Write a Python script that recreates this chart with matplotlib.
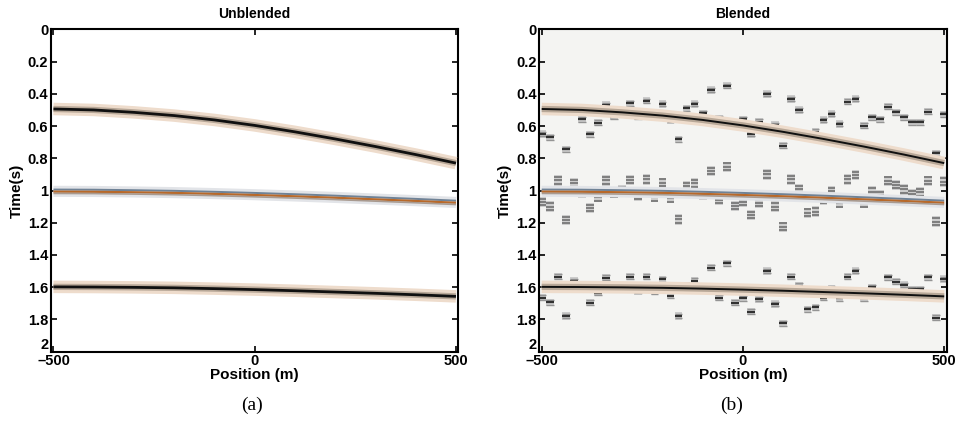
import matplotlib
matplotlib.use('Agg')
import matplotlib.pyplot as plt
import numpy as np

plt.rcParams['font.family'] = ['Liberation Sans', 'DejaVu Sans']
plt.rcParams['font.weight'] = 'bold'

# positions where the event times were read (m)
event_x = [-500, -400, -300, -200, -100, 0, 100, 200, 300, 400, 500]
# event times (s)
event1_t = [0.494, 0.500, 0.515, 0.535, 0.562, 0.596, 0.636, 0.680, 0.727, 0.777, 0.830]
event2_t = [1.005, 1.006, 1.009, 1.013, 1.019, 1.026, 1.034, 1.043, 1.053, 1.063, 1.074]
event3_t = [1.598, 1.599, 1.601, 1.604, 1.609, 1.615, 1.622, 1.630, 1.638, 1.647, 1.657]

# traces of the interfering (blended) source
trace_x = list(range(-500, 501, 20))
blend1_t = [0.649, 0.670, 0.505, 0.744, 0.505, 0.558, 0.651, 0.579, 0.470, 0.542,
            0.517, 0.459, 0.542, 0.443, 0.538, 0.463, 0.563, 0.682, 0.490, 0.463,
            0.521, 0.377, 0.552, 0.350, 0.594, 0.558, 0.649, 0.573, 0.401, 0.594,
            0.722, 0.432, 0.501, 0.656, 0.635, 0.563, 0.525, 0.587, 0.449, 0.432,
            0.598, 0.546, 0.558, 0.480, 0.515, 0.546, 0.577, 0.577, 0.511, 0.769,
            0.527]
blend2_t = [1.072, 1.100, 0.937, 1.183, 0.955, 1.015, 1.108, 1.042, 0.937, 1.017,
            0.997, 0.935, 1.032, 0.931, 1.042, 0.952, 1.048, 1.179, 0.972, 0.955,
            1.028, 0.879, 1.059, 0.852, 1.096, 1.072, 1.152, 1.076, 0.900, 1.100,
            1.225, 0.931, 0.993, 1.138, 1.131, 1.059, 1.003, 1.079, 0.931, 0.904,
            1.079, 1.007, 1.028, 0.939, 0.966, 0.993, 1.024, 1.011, 0.939, 1.193,
            0.945]
blend3_t = [1.665, 1.694, 1.535, 1.779, 1.562, 1.607, 1.696, 1.634, 1.541, 1.607,
            1.597, 1.535, 1.623, 1.535, 1.628, 1.551, 1.653, 1.779, 1.591, 1.560,
            1.611, 1.479, 1.665, 1.452, 1.696, 1.669, 1.752, 1.673, 1.499, 1.704,
            1.824, 1.535, 1.591, 1.737, 1.725, 1.665, 1.607, 1.669, 1.535, 1.499,
            1.669, 1.601, 1.628, 1.539, 1.566, 1.586, 1.613, 1.613, 1.539, 1.789,
            1.549]

yticks = [0, 0.2, 0.4, 0.6, 0.8, 1, 1.2, 1.4, 1.6, 1.8, 2]
ytick_labels = ['0', '0.2', '0.4', '0.6', '0.8', '1', '1.2', '1.4', '1.6', '1.8', '2']
xticks = [-500, 0, 500]


def draw_event_dark(ax, x, t, lw=1.8):
    ax.plot(x, t, color='#eedccc', lw=9, solid_capstyle='butt', zorder=3)
    ax.plot(x, t, color='#b8a898', lw=4.5, solid_capstyle='butt', zorder=3)
    ax.plot(x, t, color='#101010', lw=lw, solid_capstyle='butt', zorder=4)


def draw_event_color(ax, x, t):
    t = np.asarray(t)
    ax.plot(x, t, color='#e2e4e8', lw=8, solid_capstyle='butt', zorder=3)
    ax.plot(x, t - 0.011, color='#6f8296', lw=1.4, solid_capstyle='butt', zorder=4)
    ax.plot(x, t + 0.002, color='#b8692a', lw=1.6, solid_capstyle='butt', zorder=4)
    ax.plot(x, t + 0.013, color='#a89a90', lw=1.2, solid_capstyle='butt', zorder=4)


def draw_blobs(ax, x, t, tall=False):
    x = np.asarray(x)
    t = np.asarray(t)
    if tall:
        h = 0.064
        ax.bar(x, h, bottom=t - h / 2, width=19, color='#cdcdcd', zorder=2)
        for dt in (-0.021, 0.0, 0.021):
            ax.hlines(t + dt, x - 9.5, x + 9.5, color='#7e7e7e', lw=1.4, zorder=2)
    else:
        h = 0.046
        ax.bar(x, h, bottom=t - h / 2, width=19, color='#cccccc', zorder=2)
        ax.hlines(t - 0.014, x - 9.5, x + 9.5, color='#949494', lw=1.0, zorder=2)
        ax.hlines(t + 0.014, x - 9.5, x + 9.5, color='#949494', lw=1.0, zorder=2)
        ax.hlines(t, x - 9.5, x + 9.5, color='#303030', lw=1.6, zorder=2)


def style_axes(ax, title):
    ax.set_xlim(-506, 506)
    ax.set_ylim(2, 0)
    ax.set_xticks(xticks)
    ax.set_xticklabels(['\u2013500', '0', '500'])
    ax.set_yticks(yticks)
    ax.set_yticklabels(ytick_labels)
    ax.tick_params(direction='in', top=True, right=True, length=4, width=1.2,
                   labelsize=10.5, pad=2)
    ax.get_yticklabels()[-1].set_va('bottom')
    for s in ax.spines.values():
        s.set_linewidth(1.5)
    ax.set_title(title, fontsize=10, fontweight='bold', pad=8)
    ax.set_xlabel('Position (m)', fontsize=11, fontweight='bold', labelpad=0)
    ax.set_ylabel('Time(s)', fontsize=11, fontweight='bold', labelpad=3)


fig = plt.figure(figsize=(9.63, 4.32), dpi=100)
ax1 = fig.add_axes([0.053, 0.186, 0.423, 0.746])
ax2 = fig.add_axes([0.560, 0.186, 0.423, 0.746])

# (a) unblended
draw_event_dark(ax1, event_x, event1_t, lw=2.0)
draw_event_color(ax1, event_x, event2_t)
draw_event_dark(ax1, event_x, event3_t, lw=2.0)
style_axes(ax1, 'Unblended')

# (b) blended
ax2.set_facecolor('#f4f4f2')
draw_blobs(ax2, trace_x, blend1_t)
draw_blobs(ax2, trace_x, blend2_t, tall=True)
draw_blobs(ax2, trace_x, blend3_t)
draw_event_dark(ax2, event_x, event1_t, lw=1.4)
draw_event_color(ax2, event_x, event2_t)
draw_event_dark(ax2, event_x, event3_t, lw=1.4)
style_axes(ax2, 'Blended')

fig.text(0.262, 0.05, '(a)', fontsize=14, fontweight='normal',
         family='Liberation Serif', ha='center')
fig.text(0.760, 0.05, '(b)', fontsize=14, fontweight='normal',
         family='Liberation Serif', ha='center')

fig.savefig('out.png', dpi=100)
